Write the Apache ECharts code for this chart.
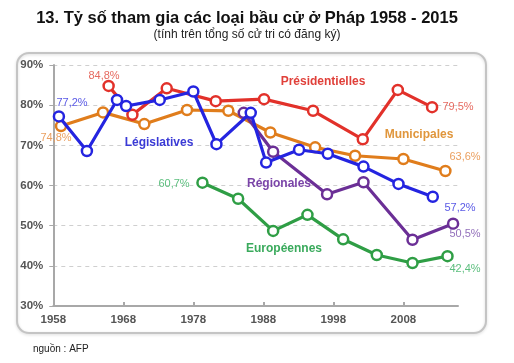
<!DOCTYPE html>
<html><head><meta charset="utf-8">
<script src="https://cdn.jsdelivr.net/npm/echarts@6/dist/echarts.min.js"></script>
<style>html,body{margin:0;padding:0;background:#fff}#c{width:514px;height:363px}</style>
</head><body><div id="c"></div>
<script>
const START = 1958;
const xTicks = [1958, 1968, 1978, 1988, 1998, 2008];
const legYears = [1958.8, 1962.8, 1967.1, 1968.4, 1973.2, 1978.0, 1981.3, 1986.2, 1988.4, 1993.1, 1997.2, 2002.3, 2007.3, 2012.2];
const legVals  = [77.2, 68.6, 81.3, 79.8, 81.3, 83.4, 70.3, 78.1, 65.7, 68.9, 67.9, 64.7, 60.4, 57.2];
const preYears = [1965.9, 1969.3, 1974.2, 1981.2, 1988.1, 1995.1, 2002.2, 2007.2, 2012.1];
const preVals  = [84.8, 77.6, 84.2, 81.0, 81.5, 78.6, 71.5, 83.8, 79.5];
const munYears = [1959.1, 1965.1, 1971.0, 1977.1, 1983.0, 1989.0, 1995.4, 2001.1, 2008.0, 2014.0];
const munVals  = [74.8, 78.2, 75.3, 78.8, 78.6, 73.2, 69.5, 67.4, 66.6, 63.6];
const regYears = [1985.2, 1989.4, 1997.1, 2002.3, 2009.3, 2015.1];
const regVals  = [78.1, 68.4, 57.8, 60.8, 46.5, 50.5];
const eurYears = [1979.3, 1984.4, 1989.4, 1994.3, 1999.4, 2004.2, 2009.3, 2014.3];
const eurVals  = [60.7, 56.7, 48.7, 52.7, 46.6, 42.7, 40.7, 42.4];

function pts(ys, vs){ return ys.map((y,i)=>[y-START, vs[i]]); }
function line(name, ys, vs, color, z){
  return {name, type:'line', data: pts(ys, vs), z,
    symbol:'circle', symbolSize:10, showAllSymbol:true,
    lineStyle:{color, width:3.2},
    itemStyle:{color:'#fff', borderColor:color, borderWidth:2.5},
    emphasis:{disabled:true}, animation:false};
}
const chart = echarts.init(document.getElementById('c'), null, {renderer:'canvas'});
const F = 'Arial, "Liberation Sans", sans-serif';
function t(x,y,text,color,size,weight){
  return {type:'text', x, y, style:{text, fill:color, font:(weight||'normal')+' '+size+'px '+F, textAlign:'center', textVerticalAlign:'middle'}, z:100};
}
chart.setOption({
  animation:false,
  backgroundColor:'#fff',
  grid:{left:53.3, right:56, top:65, bottom:57, containLabel:false},
  xAxis:{type:'value', min:0, max:57.8, interval:10,
    axisLine:{lineStyle:{color:'#a8a8a8', width:2}},
    axisTick:{show:true, inside:true, length:4, lineStyle:{color:'#a8a8a8', width:2}},
    axisLabel:{showMaxLabel:false, color:'#555', fontSize:11.5, fontWeight:'bold', fontFamily:F, margin:8,
      formatter:v=> xTicks.includes(v+START) ? String(v+START) : ''},
    splitLine:{show:false}},
  yAxis:{type:'value', min:30, max:90, interval:10,
    axisLine:{show:true, lineStyle:{color:'#a8a8a8', width:2}},
    axisTick:{show:true, length:4, lineStyle:{color:'#a8a8a8', width:1}},
    axisLabel:{color:'#555', fontSize:11.5, fontWeight:'bold', fontFamily:F, margin:10, formatter:'{value}%'},
    splitLine:{show:true, lineStyle:{color:'#cfcfcf', type:[4,4], width:1}}},
  series:[
    line('Municipales', munYears, munVals, '#e07d1c', 2),
    line('Européennes', eurYears, eurVals, '#2f9e45', 3),
    line('Régionales', regYears, regVals, '#6b2f96', 4),
    line('Présidentielles', preYears, preVals, '#e2312a', 5),
    line('Législatives', legYears, legVals, '#2424e0', 6)
  ],
  graphic:[
    {type:'rect', shape:{x:17, y:53, width:469, height:280, r:12}, style:{fill:'none', stroke:'#c4c4c4', lineWidth:2, shadowBlur:3, shadowColor:'rgba(0,0,0,0.15)', shadowOffsetY:1}, z:0, silent:true},
    t(247, 18, '13. Tỷ số tham gia các loại bầu cử ở Pháp 1958 - 2015', '#111', 16.5, 'bold'),
    t(247, 35, '(tính trên tổng số cử tri có đăng ký)', '#222', 12),
    t(104, 76, '84,8%', '#e66a60', 11),
    t(72, 103, '77,2%', '#5a5ae6', 11),
    t(56, 138, '74,8%', '#eba060', 11),
    t(159, 143, 'Législatives', '#3a3ad6', 12, 'bold'),
    t(323, 82, 'Présidentielles', '#e0403a', 12, 'bold'),
    t(458, 107, '79,5%', '#e66a60', 11),
    t(419, 135, 'Municipales', '#e0963c', 12, 'bold'),
    t(465, 157, '63,6%', '#eba060', 11),
    t(174, 184, '60,7%', '#5cbf7e', 11),
    t(279, 184, 'Régionales', '#7a44a8', 12, 'bold'),
    t(284, 249, 'Européennes', '#3aaa5c', 12, 'bold'),
    t(460, 208, '57,2%', '#5a5ae6', 11),
    t(465, 234, '50,5%', '#9370bb', 11),
    t(465, 269, '42,4%', '#5cbf7e', 11),
    {type:'text', x:33, y:349, style:{text:'nguồn : AFP', fill:'#222', font:'10px '+F, textVerticalAlign:'middle'}, z:100}
  ]
});
</script></body></html>
